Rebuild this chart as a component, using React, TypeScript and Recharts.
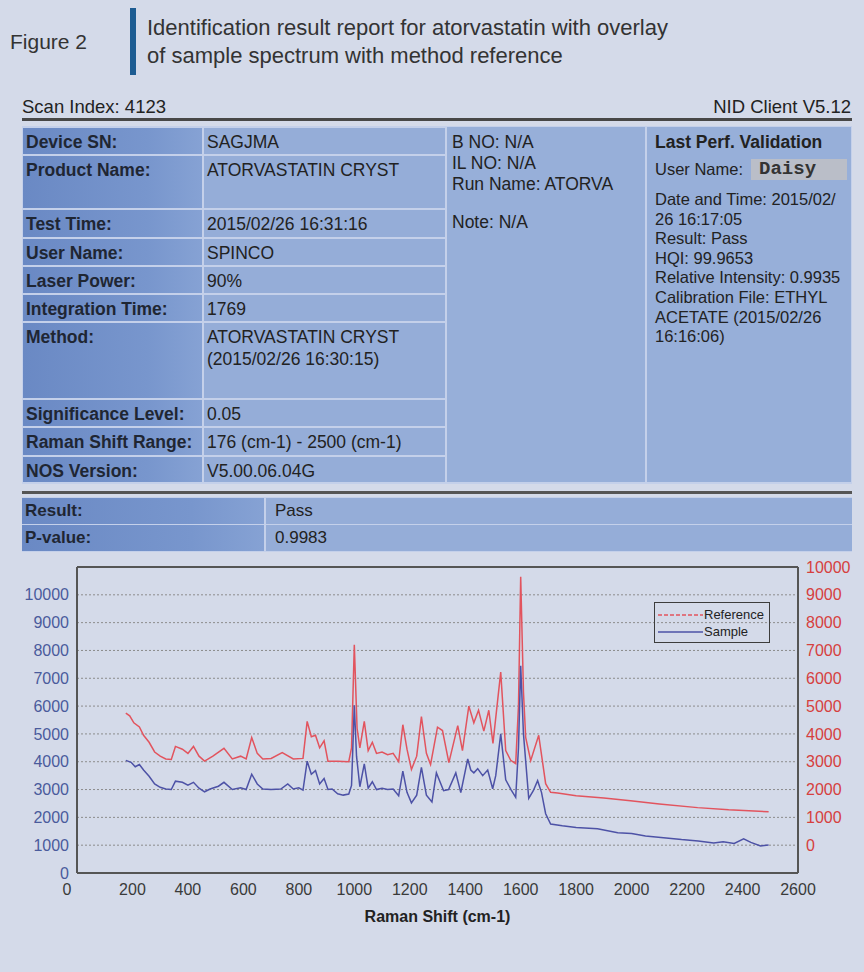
import { LineChart, Line, XAxis, YAxis, CartesianGrid, Legend, ReferenceLine } from 'recharts'

// spectrum data
const sampleShift = [
  176, 195, 210, 225, 240, 260, 280, 300, 320, 340, 355, 380, 400, 420, 440, 460, 480, 510, 530, 560,
  590, 610, 630, 650, 670, 700, 735, 760, 780, 800, 815, 830, 845, 860, 875, 891, 905, 920, 940, 960,
  980, 990, 1000, 1008, 1020, 1036, 1050, 1065, 1080, 1100, 1120, 1140, 1160, 1175, 1190, 1206, 1225, 1242, 1260, 1280,
  1296, 1322, 1340, 1366, 1384, 1409, 1420, 1431, 1445, 1463, 1481, 1499, 1510, 1528, 1546, 1565, 1582, 1592, 1600, 1610,
  1629, 1645, 1661, 1675, 1690, 1708, 1750, 1800, 1877, 1950, 2000, 2050, 2115, 2180, 2240, 2296, 2330, 2370, 2404, 2430,
  2465, 2494,
]
const sampleIntensity = [
  4050, 3980, 3820, 3900, 3700, 3480, 3200, 3080, 3020, 3000, 3300, 3260, 3160, 3260, 3050, 2920, 3020, 3120, 3260, 3000,
  3060, 3000, 3550, 3200, 3020, 3000, 3020, 3200, 3020, 3060, 2980, 4020, 3550, 3680, 3200, 3400, 3000, 3020, 2850, 2800,
  2840, 3150, 6030, 4200, 3100, 3920, 3050, 3280, 3000, 3050, 3000, 3020, 2780, 3660, 2900, 2520, 2800, 3800, 2800, 2550,
  3600, 2960, 3000, 3600, 2890, 4100, 3700, 3600, 3750, 3500, 3700, 3030, 3500, 5000, 3350, 3000, 2720, 4500, 7450, 5000,
  2680, 2950, 3320, 2900, 2130, 1760, 1700, 1640, 1590, 1450, 1420, 1330, 1270, 1200, 1150, 1080, 1120, 1060, 1230, 1100,
  970, 1010,
]

const referenceShift = [
  176, 190, 205, 225, 240, 260, 280, 300, 320, 340, 355, 380, 400, 420, 440, 460, 490, 530, 560, 590,
  610, 630, 650, 670, 700, 740, 780, 815, 830, 845, 860, 875, 891, 905, 940, 980, 990, 1000, 1010, 1020,
  1036, 1050, 1065, 1080, 1100, 1120, 1140, 1160, 1175, 1190, 1206, 1225, 1242, 1260, 1275, 1300, 1318, 1341, 1373, 1390,
  1413, 1431, 1448, 1467, 1485, 1500, 1528, 1546, 1564, 1582, 1592, 1600, 1610, 1618, 1636, 1665, 1690, 1708, 1733, 1800,
  1900, 1996, 2100, 2238, 2350, 2494,
]
// right axis units
const referenceIntensity = [
  4750, 4650, 4400, 4250, 3950, 3700, 3350, 3200, 3100, 3080, 3550, 3450, 3300, 3550, 3200, 3020, 3200, 3480, 3100, 3200,
  3100, 3870, 3300, 3100, 3120, 3330, 3100, 3120, 4450, 3900, 3950, 3500, 3750, 3020, 3020, 3000, 3500, 7200, 4200, 3500,
  4450, 3400, 3700, 3300, 3350, 3250, 3300, 3000, 4330, 3450, 2720, 3200, 4620, 3300, 2900, 4240, 4120, 2970, 4300, 3400,
  5000, 4400, 4850, 4100, 4850, 3660, 6220, 3400, 3050, 2930, 5000, 9650, 5500, 3870, 3040, 3950, 2210, 1900, 1880, 1780,
  1700, 1600, 1480, 1350, 1270, 1200,
]

const leftTicks = [0, 1000, 2000, 3000, 4000, 5000, 6000, 7000, 8000, 9000, 10000]
const rightTicks = [0, 1000, 2000, 3000, 4000, 5000, 6000, 7000, 8000, 9000, 10000]
const shiftTicks = [0, 200, 400, 600, 800, 1000, 1200, 1400, 1600, 1800, 2000, 2200, 2400, 2600]

const deviceLabels = [
  'Device SN:', 'Product Name:', 'Test Time:', 'User Name:', 'Laser Power:', 'Integration Time:',
  'Method:', 'Significance Level:', 'Raman Shift Range:', 'NOS Version:',
]
const deviceValues = [
  ['SAGJMA'], ['ATORVASTATIN CRYST'], ['2015/02/26 16:31:16'], ['SPINCO'], ['90%'], ['1769'],
  ['ATORVASTATIN CRYST', '(2015/02/26 16:30:15)'], ['0.05'], ['176 (cm-1) - 2500 (cm-1)'], ['V5.00.06.04G'],
]
const rowTops = [127, 155, 209, 238, 266, 294, 322, 399, 427, 456, 483]

const runLines = ['B NO: N/A', 'IL NO: N/A', 'Run Name: ATORVA']
const validationLines = [
  'Date and Time: 2015/02/', '26 16:17:05', 'Result: Pass', 'HQI: 99.9653',
  'Relative Intensity: 0.9935', 'Calibration File: ETHYL', 'ACETATE (2015/02/26', '16:16:06)',
]

const SAMPLE_COLOR = '#4d52a6'
const REF_COLOR = '#e2545e'
const FONT = '"Liberation Sans", Arial, sans-serif'

const sampleData = sampleShift.map((x, i) => ({ x, y: sampleIntensity[i] }))
const referenceData = referenceShift.map((x, i) => ({ x, y: referenceIntensity[i] }))

const labelBg = 'linear-gradient(90deg, #6a89c4 0%, #7896cd 70%, #86a2d4 100%)'
const valueBg = '#95add8'

const ShiftTick = ({ x, y, payload }: any) => (
  <text
    x={payload.value === 0 ? x - 10 : x}
    y={y}
    dy={14}
    textAnchor="middle"
    fill="#3a3a3a"
    fontSize={16}
    fontFamily={FONT}
  >
    {payload.value}
  </text>
)

const LegendBox = () => (
  <div
    style={{
      border: '1.5px solid #3c3c3c',
      width: 116,
      height: 41,
      boxSizing: 'border-box',
      padding: '3px 0 0 3px',
      fontSize: 13,
      color: '#222',
      fontFamily: FONT,
    }}
  >
    <div style={{ display: 'flex', alignItems: 'center', height: 17 }}>
      <svg width={46} height={4}>
        <line x1={0} y1={2} x2={45} y2={2} stroke={REF_COLOR} strokeWidth={1.5} strokeDasharray="4 2" />
      </svg>
      <span>Reference</span>
    </div>
    <div style={{ display: 'flex', alignItems: 'center', height: 17 }}>
      <svg width={46} height={4}>
        <line x1={0} y1={2} x2={45} y2={2} stroke={SAMPLE_COLOR} strokeWidth={1.5} />
      </svg>
      <span>Sample</span>
    </div>
  </div>
)

function InfoTable() {
  return (
    <div style={{ position: 'absolute', left: 22, top: 126, width: 830, height: 358, background: '#c4d0ea' }}>
      {deviceLabels.map((label, i) => {
        const top = rowTops[i] - 126
        const h = rowTops[i + 1] - rowTops[i] - 2
        return (
          <div key={label}>
            <div
              style={{
                position: 'absolute', left: 1, top: top + 1, width: 179, height: h,
                background: labelBg, fontWeight: 'bold', fontSize: 17.5, lineHeight: '22px',
                padding: '3px 0 0 3px', boxSizing: 'border-box', color: '#1f2633', whiteSpace: 'nowrap',
              }}
            >
              {label}
            </div>
            <div
              style={{
                position: 'absolute', left: 182, top: top + 1, width: 241, height: h,
                background: valueBg, fontSize: 17.5, lineHeight: '22px',
                padding: '3px 0 0 3px', boxSizing: 'border-box', color: '#222', whiteSpace: 'nowrap',
              }}
            >
              {deviceValues[i].map((v) => <div key={v}>{v}</div>)}
            </div>
          </div>
        )
      })}
      <div
        style={{
          position: 'absolute', left: 425, top: 1, width: 198, height: 355, background: '#97afd9',
          fontSize: 17.5, lineHeight: '21px', padding: '5px 0 0 5px', boxSizing: 'border-box', color: '#222',
        }}
      >
        {runLines.map((l) => <div key={l}>{l}</div>)}
        <div style={{ marginTop: 17 }}>Note: N/A</div>
      </div>
      <div
        style={{
          position: 'absolute', left: 625, top: 1, width: 204, height: 355, background: '#97afd9',
          boxSizing: 'border-box', padding: '5px 0 0 8px', color: '#222',
        }}
      >
        <div style={{ fontWeight: 'bold', fontSize: 17.5, lineHeight: '21px' }}>Last Perf. Validation</div>
        <div style={{ display: 'flex', alignItems: 'center', marginTop: 5, height: 22, fontSize: 16.5 }}>
          <span>User Name:</span>
          <span
            style={{
              marginLeft: 8, width: 96, height: 21, background: '#babec8', fontFamily: '"Liberation Mono", monospace',
              fontWeight: 'bold', fontSize: 19, lineHeight: '21px', paddingLeft: 8, boxSizing: 'border-box', color: '#333',
            }}
          >
            Daisy
          </span>
        </div>
        <div style={{ marginTop: 10, fontSize: 16.5, lineHeight: '19.6px' }}>
          {validationLines.map((l) => <div key={l}>{l}</div>)}
        </div>
      </div>
    </div>
  )
}

export default function App() {
  return (
    <div
      style={{
        position: 'absolute', left: 0, top: 0, width: 864, height: 972, background: '#d4dae9',
        fontFamily: FONT, overflow: 'hidden',
      }}
    >
      {/* header */}
      <div style={{ position: 'absolute', left: 10, top: 30, fontSize: 21, color: '#333' }}>Figure 2</div>
      <div style={{ position: 'absolute', left: 130, top: 8, width: 6, height: 67, background: '#1d5c92' }} />
      <div style={{ position: 'absolute', left: 147, top: 14, fontSize: 22, lineHeight: '28px', color: '#333' }}>
        <div>Identification result report for atorvastatin with overlay</div>
        <div>of sample spectrum with method reference</div>
      </div>

      {/* report header */}
      <div style={{ position: 'absolute', left: 22, top: 96, fontSize: 18.5, color: '#222' }}>Scan Index: 4123</div>
      <div style={{ position: 'absolute', right: 13, top: 96, fontSize: 18.5, color: '#222' }}>NID Client V5.12</div>
      <div style={{ position: 'absolute', left: 22, top: 118, width: 830, height: 3, background: '#474747' }} />

      <InfoTable />

      <div style={{ position: 'absolute', left: 22, top: 491, width: 830, height: 3, background: '#555' }} />

      {/* result rows */}
      <div style={{ position: 'absolute', left: 22, top: 497, width: 830, height: 55, background: '#c4d0ea' }}>
        {[['Result:', 'Pass'], ['P-value:', '0.9983']].map(([l, v], i) => (
          <div key={l}>
            <div
              style={{
                position: 'absolute', left: 0, top: 1 + i * 27, width: 242, height: 26, background: labelBg,
                fontWeight: 'bold', fontSize: 17, lineHeight: '26px', paddingLeft: 3, boxSizing: 'border-box', color: '#1f2633',
              }}
            >
              {l}
            </div>
            <div
              style={{
                position: 'absolute', left: 244, top: 1 + i * 27, width: 586, height: 26, background: valueBg,
                fontSize: 17, lineHeight: '26px', paddingLeft: 9, boxSizing: 'border-box', color: '#222',
              }}
            >
              {v}
            </div>
          </div>
        ))}
      </div>

      {/* spectrum */}
      <div style={{ position: 'absolute', left: 0, top: 550 }}>
        <LineChart width={864} height={400} margin={{ top: 17, right: 10, bottom: 27, left: 0 }}>
          <CartesianGrid yAxisId="left" vertical={false} stroke="#8c8c8c" strokeDasharray="2 2" />
          <XAxis
            dataKey="x"
            type="number"
            domain={[0, 2600]}
            ticks={shiftTicks}
            tick={<ShiftTick />}
            tickLine={false}
            axisLine={{ stroke: '#555', strokeWidth: 2 }}
            height={50}
            allowDuplicatedCategory={false}
            label={{
              value: 'Raman Shift (cm-1)',
              position: 'insideBottom',
              offset: 1,
              fontWeight: 'bold',
              fontSize: 16,
              fill: '#222',
            }}
          />
          <YAxis
            yAxisId="left"
            orientation="left"
            domain={[0, 11000]}
            ticks={leftTicks}
            width={77}
            tickLine={false}
            axisLine={{ stroke: '#555', strokeWidth: 2 }}
            tick={{ fill: '#4a5b9c', fontSize: 16, fontFamily: FONT }}
          />
          <YAxis
            yAxisId="right"
            orientation="right"
            domain={[-1000, 10000]}
            ticks={rightTicks}
            width={56}
            tickLine={false}
            axisLine={{ stroke: '#555', strokeWidth: 2 }}
            tick={{ fill: '#d6403e', fontSize: 16, textAnchor: 'start', fontFamily: FONT }}
          />
          <ReferenceLine yAxisId="left" y={11000} stroke="#555" strokeWidth={2} />
          <Line
            yAxisId="right"
            data={referenceData}
            dataKey="y"
            name="Reference"
            stroke={REF_COLOR}
            strokeWidth={1.5}
            dot={false}
            type="linear"
            isAnimationActive={false}
          />
          <Line
            yAxisId="left"
            data={sampleData}
            dataKey="y"
            name="Sample"
            stroke={SAMPLE_COLOR}
            strokeWidth={1.5}
            dot={false}
            type="linear"
            isAnimationActive={false}
          />
          <Legend
            layout="vertical"
            align="center"
            verticalAlign="middle"
            content={<LegendBox />}
            wrapperStyle={{ left: 654, top: 52, width: 116, height: 41 }}
          />
        </LineChart>
      </div>
    </div>
  )
}
